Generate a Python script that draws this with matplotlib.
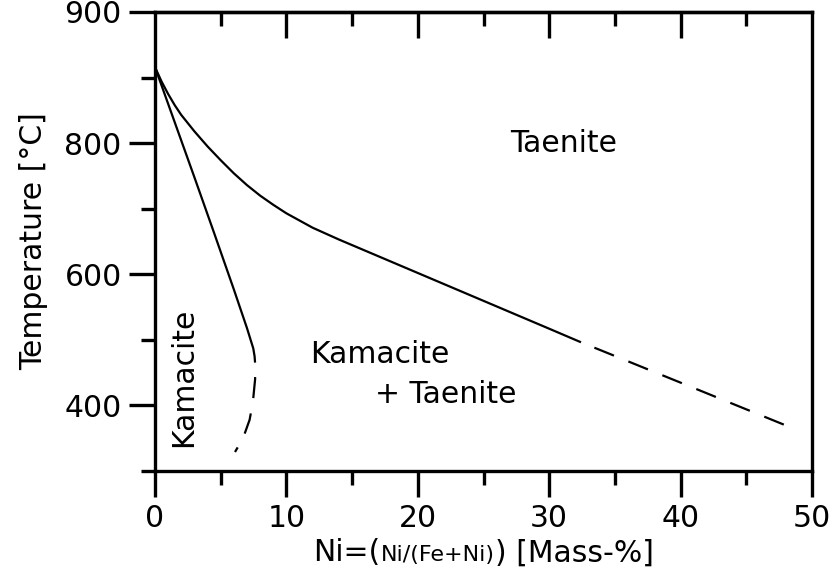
import matplotlib
matplotlib.use("Agg")
import matplotlib.pyplot as plt
from matplotlib.offsetbox import TextArea, HPacker, AnnotationBbox
from matplotlib.ticker import MultipleLocator, FixedLocator

# phase boundaries (Ni mass-%, temperature in °C)
taenite_x = [0, 0.5, 1, 1.5, 2, 3, 4, 5, 6, 7, 8, 9, 10, 11, 12, 14, 16, 18, 20, 22, 26, 30, 32.34]
taenite_t = [916, 894, 875, 858, 843, 818, 795, 774, 754, 736, 720, 706, 693, 682, 671, 653,
             636, 619, 602, 585, 551, 517, 497]
taenite_dash_x = [32.34, 41.2, 48.07]
taenite_dash_t = [497, 425, 369]

kamacite_x = [0, 1.5, 3, 4.5, 6, 7, 7.48, 7.58, 7.61]
kamacite_t = [916, 832, 748, 663, 577, 518, 487, 475, 467]
kamacite_dash_x = [7.61, 7.62, 7.45, 7.2, 6.7, 6.09]
kamacite_dash_t = [467, 440, 405, 378, 350, 329]

y_ticks = [400, 600, 800, 1000]
y_ticklabels = ["400", "600", "800", "900"]

FS = 21.5
dash = (9.5, (9.5, 7))  # start with a gap after the solid part

fig = plt.figure(figsize=(8.35, 5.71), dpi=100)
ax = fig.add_axes([0.1856, 0.1751, 0.7869, 0.8039])

ax.plot(taenite_x, taenite_t, color="black", lw=1.6)
ax.plot(taenite_dash_x, taenite_dash_t, color="black", lw=1.6, linestyle=dash)
ax.plot(kamacite_x, kamacite_t, color="black", lw=1.6)
ax.plot(kamacite_dash_x, kamacite_dash_t, color="black", lw=1.6, linestyle=dash)

ax.set_xlim(0, 50)
ax.set_ylim(300, 1000)

ax.xaxis.set_major_locator(MultipleLocator(10))
ax.xaxis.set_minor_locator(MultipleLocator(5))
ax.yaxis.set_major_locator(FixedLocator(y_ticks))
ax.set_yticklabels(y_ticklabels)
ax.yaxis.set_minor_locator(FixedLocator([300, 500, 700, 900]))

for s in ax.spines.values():
    s.set_linewidth(2.4)

ax.tick_params(which="major", direction="out", length=19, width=2.4, labelsize=FS, pad=5)
ax.tick_params(which="minor", direction="out", length=10, width=2.4)
ax.tick_params(top=False, right=False)

top = ax.secondary_xaxis("top")
top.xaxis.set_major_locator(FixedLocator([10, 20, 30, 40]))
top.xaxis.set_minor_locator(FixedLocator([5, 15, 25, 35, 45]))
top.tick_params(which="major", direction="in", length=19, width=2.4, labeltop=False)
top.tick_params(which="minor", direction="in", length=10, width=2.4)
top.spines["top"].set_linewidth(2.4)

ax.set_ylabel("Temperature [°C]", fontsize=FS, labelpad=12)

# x label with the small ratio in the middle
parts = [
    TextArea("Ni=(", textprops=dict(size=FS)),
    TextArea("Ni/(Fe+Ni)", textprops=dict(size=16)),
    TextArea(") [Mass-%]", textprops=dict(size=FS)),
]
box = HPacker(children=parts, align="baseline", pad=0, sep=0)
ab = AnnotationBbox(box, (0.5, -0.178), xycoords="axes fraction",
                    box_alignment=(0.5, 0.5), frameon=False, pad=0)
ax.add_artist(ab)

ax.text(31.1, 800, "Taenite", fontsize=FS, ha="center", va="center")
ax.text(17.1, 477, "Kamacite", fontsize=FS, ha="center", va="center")
ax.text(22.1, 416, "+ Taenite", fontsize=FS, ha="center", va="center")
ax.text(2.17, 443, "Kamacite", fontsize=FS, ha="center", va="center", rotation=90)

fig.savefig("out.png", dpi=100)
